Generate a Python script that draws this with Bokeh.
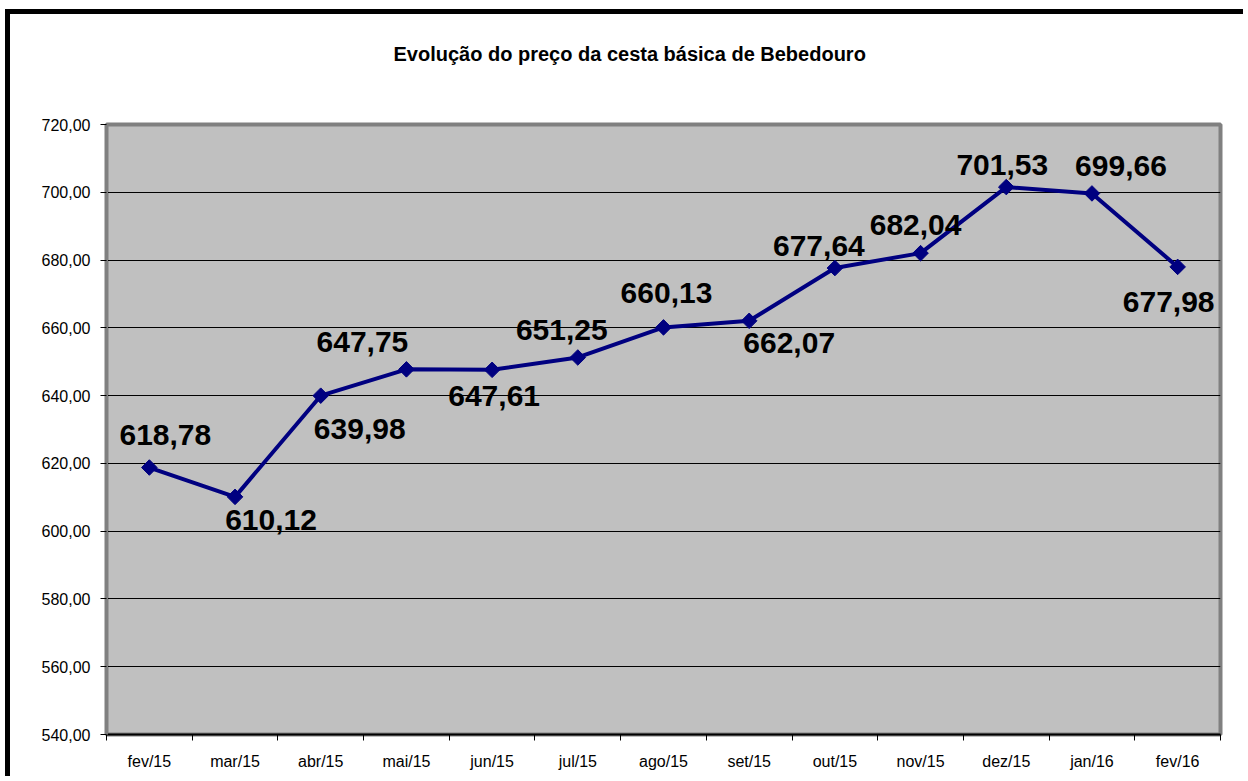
from bokeh.plotting import figure
from bokeh.models import ColumnDataSource, FixedTicker, Range1d, Title
from bokeh.core.properties import value
from bokeh.embed import file_html
from bokeh.resources import INLINE

# ---- data ----
months = ["fev/15", "mar/15", "abr/15", "mai/15", "jun/15", "jul/15", "ago/15",
          "set/15", "out/15", "nov/15", "dez/15", "jan/16", "fev/16"]
prices = [618.78, 610.12, 639.98, 647.75, 647.61, 651.25, 660.13,
          662.07, 677.64, 682.04, 701.53, 699.66, 677.98]
y_ticks = [540, 560, 580, 600, 620, 640, 660, 680, 700, 720]
title_text = "Evolução do preço da cesta básica de Bebedouro"

# ---- label placement (screen pixels, layout only) ----
label_dx = [16, 36, 39, -44, 2, -16, 3, 40, -16, -5, -4, 29, -9]
label_dy = [-33, 23, 33, -27, 26, -27, -34, 22, -22, -28, -22, -27, 35]

FONT = "Liberation Sans"

xs = [i + 0.5 for i in range(len(months))]
labels = [f"{v:.2f}".replace(".", ",") for v in prices]

src = ColumnDataSource(dict(x=xs, y=prices, label=labels,
                            dx=label_dx, dy=label_dy))

p = figure(width=1238, height=767, output_backend="svg", toolbar_location=None,
           title=None,
           x_range=Range1d(0, len(months)), y_range=Range1d(y_ticks[0], y_ticks[-1]),
           min_border_left=96, min_border_top=110, min_border_right=28,
           min_border_bottom=47)

# outer black frame (only its left and top edges fall inside the picture)
p.styles = {"border-left": "5px solid black", "border-top": "5px solid black",
            "position": "relative", "left": "5px", "top": "9px"}

p.background_fill_color = "#C0C0C0"
p.border_fill_color = "white"
p.outline_line_color = "#808080"
p.outline_line_width = 4

# spacer (closest to the plot) then the real title above it
p.add_layout(Title(text=" ", text_font=FONT, text_font_size="20px", standoff=31), "above")
p.add_layout(Title(text=title_text, text_font=FONT, text_font_style="bold",
                   text_font_size="20px", text_color="black", align="left",
                   offset=287, standoff=10), "above")

# x axis
xa = p.xaxis[0]
xa.ticker = FixedTicker(ticks=xs, minor_ticks=list(range(len(months) + 1)))
xa.major_label_overrides = {x: m for x, m in zip(xs, months)}
xa.major_tick_line_color = None
xa.major_tick_out = 0
xa.major_tick_in = 0
xa.minor_tick_line_color = "black"
xa.minor_tick_out = 6
xa.minor_tick_in = 0
xa.axis_line_color = "black"
xa.axis_line_width = 2
xa.major_label_standoff = 12
xa.major_label_text_font = FONT
xa.major_label_text_font_size = "16px"
xa.major_label_text_color = "black"

# y axis
ya = p.yaxis[0]
ya.ticker = FixedTicker(ticks=y_ticks)
ya.major_label_overrides = {t: f"{t:.2f}".replace(".", ",") for t in y_ticks}
ya.minor_tick_line_color = None
ya.major_tick_line_color = "black"
ya.major_tick_out = 6
ya.major_tick_in = 0
ya.axis_line_color = "#808080"
ya.axis_line_width = 3
ya.major_label_standoff = 10
ya.major_label_text_font = FONT
ya.major_label_text_font_size = "16px"
ya.major_label_text_color = "black"

p.xgrid.grid_line_color = None
p.ygrid.ticker = FixedTicker(ticks=y_ticks)
p.ygrid.grid_line_color = "black"
p.ygrid.grid_line_width = 1

# series
p.line("x", "y", source=src, line_color="#000080", line_width=4)
p.scatter("x", "y", source=src, marker="square", angle=0.785398, size=11,
          fill_color="#000080", line_color="#000080")

p.text("x", "y", text="label", source=src, x_offset="dx", y_offset="dy",
       text_align="center", text_baseline="alphabetic",
       text_font=value(FONT), text_font_style="bold", text_font_size="30px",
       text_color="black")

open("out.html", "w").write(file_html(p, INLINE))
